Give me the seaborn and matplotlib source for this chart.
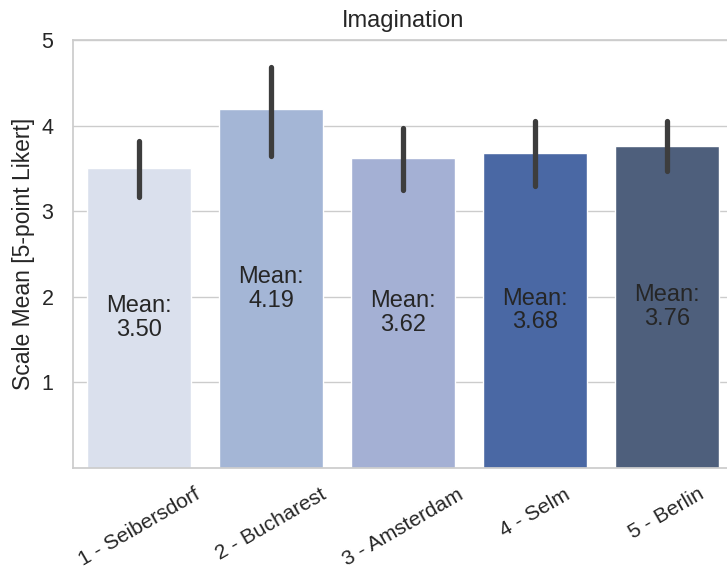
import matplotlib
matplotlib.use("Agg")
import matplotlib.pyplot as plt
import seaborn as sns
import pandas as pd

# Survey sites and their imagination scale means with 95% CI bounds
sites = ["1 - Seibersdorf", "2 - Bucharest", "3 - Amsterdam", "4 - Selm", "5 - Berlin"]
means = [3.50, 4.19, 3.62, 3.68, 3.76]
ci_low = [3.17, 3.64, 3.25, 3.29, 3.47]
ci_high = [3.82, 4.68, 3.97, 4.05, 4.05]
bar_colors = ["#dae0ed", "#a4b6d6", "#a4b0d4", "#4a68a4", "#4e5f7c"]

sns.set_theme(style="whitegrid")
plt.rcParams["font.family"] = ["Liberation Sans", "DejaVu Sans"]

df = pd.DataFrame({"site": sites, "mean": means})

fig = plt.figure(figsize=(7.27, 5.71), dpi=100)
ax = fig.add_axes([0.1004, 0.1804, 0.9076, 0.7496])

sns.barplot(data=df, x="site", y="mean", hue="site", palette=bar_colors,
            saturation=1, errorbar=None, width=0.79, legend=False, ax=ax)

ax.vlines(range(len(sites)), ci_low, ci_high, color="#3d3d3d", linewidth=3.8,
          capstyle="round", zorder=3)

for i, m in enumerate(means):
    ax.text(i, m / 2, f"Mean:\n{m:.2f}", ha="center", va="center",
            fontsize=17, color="#262626", linespacing=1.1)

ax.set_ylim(0, 5)
ax.set_xlim(-0.5, 4.5)
ax.set_yticks([1, 2, 3, 4, 5])
ax.tick_params(axis="y", labelsize=15.5, colors="#262626", pad=8)
ax.tick_params(axis="x", labelsize=15, colors="#262626", pad=6)
ax.grid(axis="x", visible=False)
ax.set_xlabel("")
ax.set_ylabel("Scale Mean [5-point Likert]", fontsize=16.5, color="#262626", labelpad=5)
ax.set_title("Imagination", fontsize=17, color="#262626", pad=9)
for lbl in ax.get_xticklabels():
    lbl.set_rotation(30)
    lbl.set_ha("center")

fig.savefig("out.png", dpi=100)
